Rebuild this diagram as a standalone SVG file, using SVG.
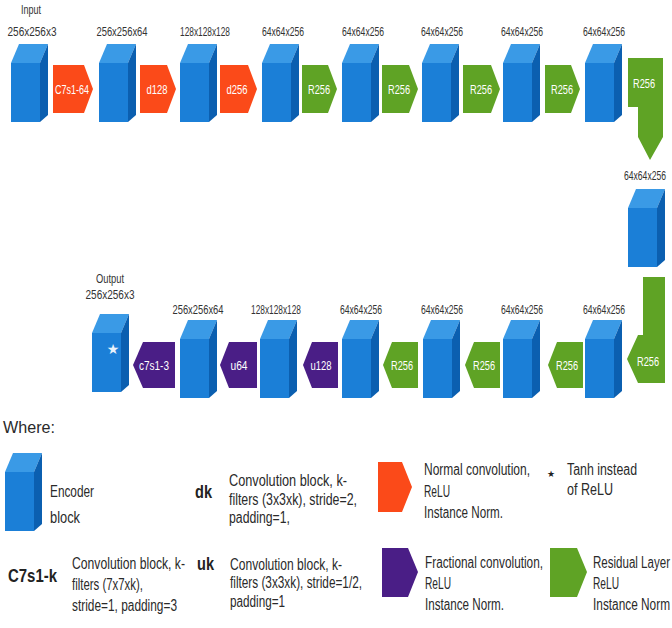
<svg xmlns="http://www.w3.org/2000/svg" xmlns:xlink="http://www.w3.org/1999/xlink" width="672" height="628" viewBox="0 0 672 628">
  <defs>
    <style>
      .lbl { font-family: "Liberation Sans", Arial, sans-serif; font-size: 13px; fill: #333; text-anchor: middle; }
      .op { font-family: "Liberation Sans", Arial, sans-serif; font-size: 13px; fill: #fff; text-anchor: middle; }
      .leg { font-family: "Liberation Sans", Arial, sans-serif; font-size: 16px; fill: #2a2a2a; }
      .key { font-family: "Liberation Sans", Arial, sans-serif; font-size: 18px; font-weight: bold; fill: #222; }
      .orange { fill: #fb4a19; }
      .green { fill: #5fa325; }
      .purple { fill: #4a1e86; }
      .front { fill: #1b7fd7; }
      .top { fill: #3a9ae6; }
      .side { fill: #0b5fb0; }
    </style>
    <!-- encoder block: origin at front-top-left corner -->
    <symbol id="cube" overflow="visible">
      <polygon class="top" points="0,0 8,-19 37,-19 29,0"/>
      <polygon class="side" points="29,0 37,-19 37,52 29,59"/>
      <rect class="front" x="0" y="0" width="29" height="59"/>
    </symbol>
  </defs>

  <rect width="672" height="628" fill="#fff"/>

  <!-- top row: encoder -->
  <g id="n-input">
    <text class="lbl" x="31" y="14" font-size="11" textLength="20" lengthAdjust="spacingAndGlyphs">Input</text>
    <text class="lbl" x="32" y="36" textLength="49" lengthAdjust="spacingAndGlyphs">256x256x3</text>
    <use xlink:href="#cube" x="11" y="63"/>
  </g>
  <g id="n-e1">
    <text class="lbl" x="122" y="36" textLength="51" lengthAdjust="spacingAndGlyphs">256x256x64</text>
    <use xlink:href="#cube" x="99" y="63"/>
  </g>
  <g id="n-e2">
    <text class="lbl" x="205" y="36" textLength="50" lengthAdjust="spacingAndGlyphs">128x128x128</text>
    <use xlink:href="#cube" x="180" y="63"/>
  </g>
  <g id="n-e3">
    <text class="lbl" x="283" y="36" textLength="42" lengthAdjust="spacingAndGlyphs">64x64x256</text>
    <use xlink:href="#cube" x="262" y="63"/>
  </g>
  <g id="n-r1">
    <text class="lbl" x="363" y="36" textLength="42" lengthAdjust="spacingAndGlyphs">64x64x256</text>
    <use xlink:href="#cube" x="342" y="63"/>
  </g>
  <g id="n-r2">
    <text class="lbl" x="442" y="36" textLength="42" lengthAdjust="spacingAndGlyphs">64x64x256</text>
    <use xlink:href="#cube" x="422" y="63"/>
  </g>
  <g id="n-r3">
    <text class="lbl" x="522" y="36" textLength="42" lengthAdjust="spacingAndGlyphs">64x64x256</text>
    <use xlink:href="#cube" x="503" y="63"/>
  </g>
  <g id="n-r4">
    <text class="lbl" x="604" y="36" textLength="42" lengthAdjust="spacingAndGlyphs">64x64x256</text>
    <use xlink:href="#cube" x="585" y="63"/>
  </g>

  <!-- right column -->
  <g id="n-r5">
    <text class="lbl" x="645" y="180" textLength="42" lengthAdjust="spacingAndGlyphs">64x64x256</text>
    <use xlink:href="#cube" x="628" y="208"/>
  </g>

  <!-- bottom row: decoder -->
  <g id="n-r6">
    <text class="lbl" x="604" y="314" textLength="42" lengthAdjust="spacingAndGlyphs">64x64x256</text>
    <use xlink:href="#cube" x="585" y="339"/>
  </g>
  <g id="n-r7">
    <text class="lbl" x="522" y="314" textLength="42" lengthAdjust="spacingAndGlyphs">64x64x256</text>
    <use xlink:href="#cube" x="503" y="339"/>
  </g>
  <g id="n-r8">
    <text class="lbl" x="442" y="314" textLength="42" lengthAdjust="spacingAndGlyphs">64x64x256</text>
    <use xlink:href="#cube" x="423" y="339"/>
  </g>
  <g id="n-r9">
    <text class="lbl" x="361" y="314" textLength="42" lengthAdjust="spacingAndGlyphs">64x64x256</text>
    <use xlink:href="#cube" x="342" y="339"/>
  </g>
  <g id="n-d1">
    <text class="lbl" x="276" y="314" textLength="50" lengthAdjust="spacingAndGlyphs">128x128x128</text>
    <use xlink:href="#cube" x="260" y="339"/>
  </g>
  <g id="n-d2">
    <text class="lbl" x="198" y="314" textLength="51" lengthAdjust="spacingAndGlyphs">256x256x64</text>
    <use xlink:href="#cube" x="180" y="339"/>
  </g>
  <g id="n-output">
    <text class="lbl" x="110" y="283" font-size="12" textLength="28" lengthAdjust="spacingAndGlyphs">Output</text>
    <text class="lbl" x="110" y="299" textLength="49" lengthAdjust="spacingAndGlyphs">256x256x3</text>
    <use xlink:href="#cube" x="92" y="333"/>
    <text x="113" y="354" font-family="DejaVu Sans, sans-serif" font-size="14" fill="#e8f2fb" text-anchor="middle">★</text>
  </g>

  <!-- operations between blocks -->
  <g id="connectors">
    <g id="c-c7s1-64">
      <path class="orange" d="M53,65 H84 L93,89 L84,113 H53 Z"/>
      <text class="op" x="72" y="94" textLength="34" lengthAdjust="spacingAndGlyphs">C7s1-64</text>
    </g>
    <g id="c-d128">
      <path class="orange" d="M140,65 H167 L176,89 L167,113 H140 Z"/>
      <text class="op" x="157" y="94" textLength="21" lengthAdjust="spacingAndGlyphs">d128</text>
    </g>
    <g id="c-d256">
      <path class="orange" d="M220,65 H248 L257,89 L248,113 H220 Z"/>
      <text class="op" x="237" y="94" textLength="21" lengthAdjust="spacingAndGlyphs">d256</text>
    </g>
    <g id="c-res1">
      <path class="green" d="M302,65 H328 L337,89 L328,113 H302 Z"/>
      <text class="op" x="319" y="94" textLength="22" lengthAdjust="spacingAndGlyphs">R256</text>
    </g>
    <g id="c-res2">
      <path class="green" d="M382,65 H409 L418,89 L409,113 H382 Z"/>
      <text class="op" x="399" y="94" textLength="22" lengthAdjust="spacingAndGlyphs">R256</text>
    </g>
    <g id="c-res3">
      <path class="green" d="M463,65 H491 L500,89 L491,113 H463 Z"/>
      <text class="op" x="481" y="94" textLength="22" lengthAdjust="spacingAndGlyphs">R256</text>
    </g>
    <g id="c-res4">
      <path class="green" d="M545,65 H571 L580,89 L571,113 H545 Z"/>
      <text class="op" x="562" y="94" textLength="22" lengthAdjust="spacingAndGlyphs">R256</text>
    </g>
    <g id="c-res5">
      <path class="green" d="M628,58 H663 V137 L650,160 L638,137 V107 H628 Z"/>
      <text class="op" x="644" y="88" textLength="22" lengthAdjust="spacingAndGlyphs">R256</text>
    </g>
    <g id="c-res6">
      <path class="green" d="M643,277 H665 V383 H638 L627,359 L638,335 H643 Z"/>
      <text class="op" x="648" y="366" textLength="22" lengthAdjust="spacingAndGlyphs">R256</text>
    </g>
    <g id="c-res7">
      <path class="green" d="M583,342 V388 H557 L548,365 L557,342 Z"/>
      <text class="op" x="567" y="370" textLength="22" lengthAdjust="spacingAndGlyphs">R256</text>
    </g>
    <g id="c-res8">
      <path class="green" d="M500,342 V388 H474 L465,365 L474,342 Z"/>
      <text class="op" x="484" y="370" textLength="22" lengthAdjust="spacingAndGlyphs">R256</text>
    </g>
    <g id="c-res9">
      <path class="green" d="M418,342 V388 H392 L383,365 L392,342 Z"/>
      <text class="op" x="402" y="370" textLength="22" lengthAdjust="spacingAndGlyphs">R256</text>
    </g>
    <g id="c-u128">
      <path class="purple" d="M338,342 V388 H312 L303,365 L312,342 Z"/>
      <text class="op" x="321" y="370" textLength="21" lengthAdjust="spacingAndGlyphs">u128</text>
    </g>
    <g id="c-u64">
      <path class="purple" d="M257,342 V388 H229 L220,365 L229,342 Z"/>
      <text class="op" x="239" y="370" textLength="17" lengthAdjust="spacingAndGlyphs">u64</text>
    </g>
    <g id="c-c7s1-3">
      <path class="purple" d="M175,342 V388 H143 L133,365 L143,342 Z"/>
      <text class="op" x="154" y="370" textLength="30" lengthAdjust="spacingAndGlyphs">c7s1-3</text>
    </g>
  </g>

  <!-- legend -->
  <g id="legend">
    <text class="leg" x="3" y="433" textLength="52" lengthAdjust="spacingAndGlyphs">Where:</text>

    <g id="key-encoder">
      <use xlink:href="#cube" x="5" y="472"/>
      <text class="leg" x="50" y="497" textLength="44" lengthAdjust="spacingAndGlyphs">Encoder</text>
      <text class="leg" x="50" y="523" textLength="30" lengthAdjust="spacingAndGlyphs">block</text>
    </g>

    <g id="key-dk">
      <text class="key" x="195" y="498" textLength="17" lengthAdjust="spacingAndGlyphs">dk</text>
      <text class="leg" x="229" y="486" textLength="118" lengthAdjust="spacingAndGlyphs">Convolution block, k-</text>
      <text class="leg" x="229" y="505" textLength="128" lengthAdjust="spacingAndGlyphs">filters (3x3xk), stride=2,</text>
      <text class="leg" x="229" y="523" textLength="61" lengthAdjust="spacingAndGlyphs">padding=1,</text>
    </g>

    <g id="key-normal">
      <path class="orange" d="M378,462 H402 L412,487 L402,512 H378 Z"/>
      <text class="leg" x="424" y="475" textLength="106" lengthAdjust="spacingAndGlyphs">Normal convolution,</text>
      <text class="leg" x="424" y="497" textLength="26" lengthAdjust="spacingAndGlyphs">ReLU</text>
      <text class="leg" x="424" y="518" textLength="79" lengthAdjust="spacingAndGlyphs">Instance Norm.</text>
    </g>

    <g id="key-tanh">
      <text x="551" y="477" font-family="DejaVu Sans, sans-serif" font-size="9" fill="#222" text-anchor="middle">★</text>
      <text class="leg" x="567" y="475" textLength="70" lengthAdjust="spacingAndGlyphs">Tanh instead</text>
      <text class="leg" x="567" y="495" textLength="46" lengthAdjust="spacingAndGlyphs">of ReLU</text>
    </g>

    <g id="key-c7s1">
      <text class="key" x="8" y="582" font-size="19" textLength="49" lengthAdjust="spacingAndGlyphs">C7s1-k</text>
      <text class="leg" x="72" y="569" textLength="113" lengthAdjust="spacingAndGlyphs">Convolution block, k-</text>
      <text class="leg" x="72" y="590" textLength="71" lengthAdjust="spacingAndGlyphs">filters (7x7xk),</text>
      <text class="leg" x="72" y="611" textLength="105" lengthAdjust="spacingAndGlyphs">stride=1, padding=3</text>
    </g>

    <g id="key-uk">
      <text class="key" x="197" y="570" textLength="17" lengthAdjust="spacingAndGlyphs">uk</text>
      <text class="leg" x="230" y="570" textLength="112" lengthAdjust="spacingAndGlyphs">Convolution block, k-</text>
      <text class="leg" x="230" y="588" textLength="132" lengthAdjust="spacingAndGlyphs">filters (3x3xk), stride=1/2,</text>
      <text class="leg" x="230" y="607" textLength="55" lengthAdjust="spacingAndGlyphs">padding=1</text>
    </g>

    <g id="key-fractional">
      <path class="purple" d="M382,548 H408 L418,572 L408,597 H382 Z"/>
      <text class="leg" x="425" y="568" textLength="118" lengthAdjust="spacingAndGlyphs">Fractional convolution,</text>
      <text class="leg" x="425" y="589" textLength="26" lengthAdjust="spacingAndGlyphs">ReLU</text>
      <text class="leg" x="425" y="610" textLength="79" lengthAdjust="spacingAndGlyphs">Instance Norm.</text>
    </g>

    <g id="key-residual">
      <path class="green" d="M550,548 H577 L587,572 L577,597 H550 Z"/>
      <text class="leg" x="593" y="568" textLength="77" lengthAdjust="spacingAndGlyphs">Residual Layer</text>
      <text class="leg" x="593" y="589" textLength="26" lengthAdjust="spacingAndGlyphs">ReLU</text>
      <text class="leg" x="593" y="610" textLength="77" lengthAdjust="spacingAndGlyphs">Instance Norm</text>
    </g>
  </g>
</svg>
